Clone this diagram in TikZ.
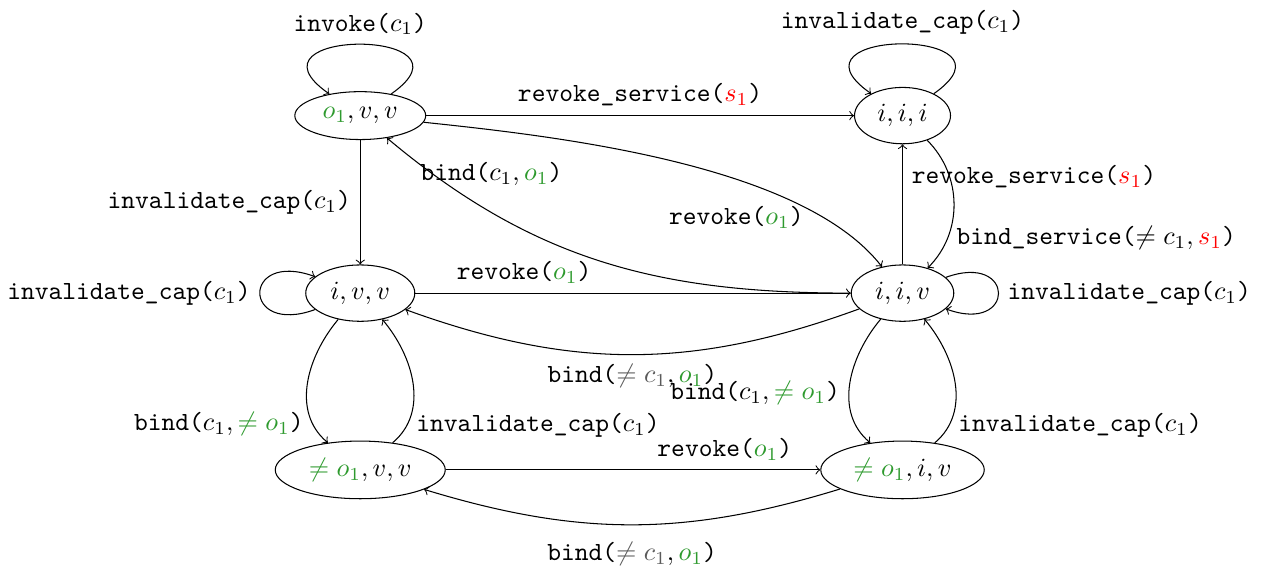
\documentclass[tikz,border=0pt]{standalone}
\usepackage{tikz}
\usetikzlibrary{shapes.geometric}
\definecolor{objgreen}{HTML}{2E9A2E}
\definecolor{srvred}{HTML}{FF0000}
\definecolor{capgray}{HTML}{5A5A5A}
\newcommand{\cobj}{{\color{objgreen}o_1}}
\newcommand{\cnobj}{{\color{objgreen}\neq o_1}}
\newcommand{\csrv}{{\color{srvred}s_1}}
\newcommand{\cncap}{{\color{capgray}\neq c_1}}
\newcommand{\actn}[2]{\texttt{#1(}$#2$\texttt{)}}

\begin{document}
\begin{tikzpicture}[
  x=1cm, y=1cm,
  >=to,
  st/.style  = {draw, ellipse},
  lbl/.style = {inner sep=3.33pt}
]
\useasboundingbox (0,0) rectangle (17.0,-7.69);

% states: columns x=4.83 / 12.10, rows y=-1.55 / -3.93 / -6.30
\node[st] (ovv) at (4.83,-1.55)  {$\cobj,v,v$};
\node[st] (iii) at (12.10,-1.55) {$i,i,i$};
\node[st] (ivv) at (4.83,-3.93)  {$i,v,v$};
\node[st] (iiv) at (12.10,-3.93) {$i,i,v$};
\node[st] (nvv) at (4.83,-6.30)  {$\cnobj,v,v$};
\node[st] (niv) at (12.10,-6.30) {$\cnobj,i,v$};

% top row
\draw[->] (ovv) to[out=35, in=145, min distance=1.55cm] node[lbl, above] {\actn{invoke}{c_1}} (ovv);
\draw[->] (iii) to[out=35, in=145, min distance=1.55cm] node[lbl, above] {\actn{invalidate\_cap}{c_1}} (iii);
\draw[->] (ovv) -- node[lbl, above] {\actn{revoke\_service}{\csrv}} (iii);
\draw[->] (ovv) to[out=-6, in=128, looseness=0.7] node[lbl, pos=0.75, anchor=north east, xshift=7pt, yshift=2pt] {\actn{revoke}{\cobj}} (iiv);
\draw[->] (iiv) to[out=180, in=-40] node[lbl, pos=0.92, anchor=west, xshift=-4pt, yshift=-3pt] {\actn{bind}{c_1,\cobj}} (ovv);
\draw[->] (ovv) -- node[lbl, left] {\actn{invalidate\_cap}{c_1}} (ivv);
\draw[->] (iiv) -- node[lbl, pos=0.73, right] {\actn{revoke\_service}{\csrv}} (iii);
\draw[->] (iii) to[out=-45, in=45] node[lbl, pos=0.75, right] {\actn{bind\_service}{\neq c_1,\csrv}} (iiv);

% middle row
\draw[->] (ivv) to[out=200, in=160, min distance=1.05cm] node[lbl, left] {\actn{invalidate\_cap}{c_1}} (ivv);
\draw[->] (iiv) to[out=20, in=-20, min distance=1cm] node[lbl, right] {\actn{invalidate\_cap}{c_1}} (iiv);
\draw[->] (ivv) -- node[lbl, pos=0.25, above] {\actn{revoke}{\cobj}} (iiv);
\draw[->] (iiv) to[bend left=20] node[lbl, below] {\actn{bind}{\cncap,\cobj}} (ivv);

% down to bottom row and back
\draw[->] (ivv) to[out=-130, in=140] node[lbl, pos=0.82, left] {\actn{bind}{c_1,\cnobj}} (nvv);
\draw[->] (nvv) to[out=40, in=-50] node[lbl, pos=0.17, right] {\actn{invalidate\_cap}{c_1}} (ivv);
\draw[->] (iiv) to[out=-130, in=140] node[lbl, pos=0.57, left] {\actn{bind}{c_1,\cnobj}} (niv);
\draw[->] (niv) to[out=40, in=-50] node[lbl, pos=0.17, right] {\actn{invalidate\_cap}{c_1}} (iiv);

% bottom row
\draw[->] (nvv) -- node[lbl, pos=0.745, above] {\actn{revoke}{\cobj}} (niv);
\draw[->] (niv) to[bend left=17] node[lbl, below=3pt] {\actn{bind}{\cncap,\cobj}} (nvv);

\end{tikzpicture}
\end{document}
